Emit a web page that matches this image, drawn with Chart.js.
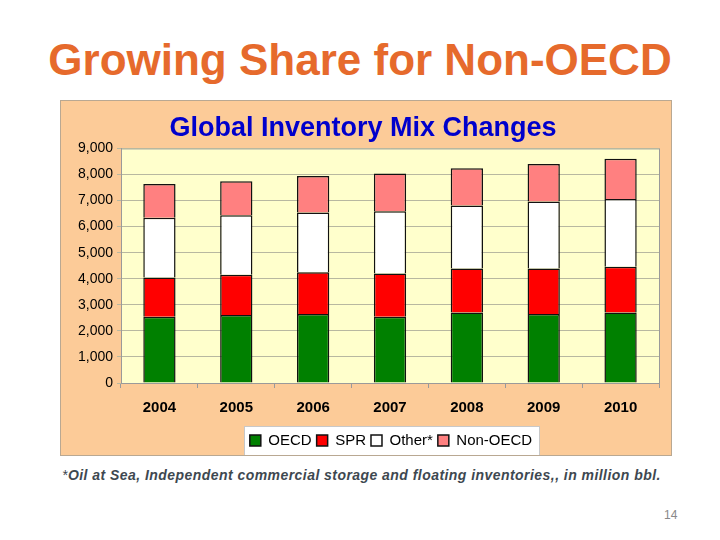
<!DOCTYPE html>
<html>
<head>
<meta charset="utf-8">
<script src="https://cdn.jsdelivr.net/npm/chart.js@4/dist/chart.umd.min.js"></script>
<style>
  body { margin: 0; width: 720px; height: 540px; background: #fff; position: relative; font-family: Arial, "Liberation Sans", sans-serif; overflow: hidden; }
  #title { position: absolute; left: 0; top: 35px; width: 720px; text-align: center; font-size: 44px; font-weight: bold; color: #E66A2C; }
  #box { position: absolute; left: 60px; top: 100px; width: 610px; height: 354px; background: #FCCB98; border: 1px solid #B9A892; }
  #note { position: absolute; left: 62px; top: 467px; font-size: 14px; font-style: italic; font-weight: bold; color: #3E4850; letter-spacing: 0.45px; }
  #page { position: absolute; left: 664px; top: 508px; font-size: 12px; color: #888; }
</style>
</head>
<body>
<div id="title">Growing Share for Non-OECD</div>
<div id="box"><canvas id="mixChart" width="610" height="354"></canvas></div>
<div id="note"><span style="font-weight:normal">*</span>Oil at Sea, Independent commercial storage and floating inventories,, in million bbl.</div>
<div id="page">14</div>
<script>
// values, million bbl
const years = ['2004','2005','2006','2007','2008','2009','2010'];
const oecd = [2545, 2610, 2650, 2545, 2700, 2650, 2700];
const spr = [1500, 1540, 1600, 1655, 1690, 1740, 1755];
const other = [2290, 2290, 2290, 2390, 2420, 2570, 2605];
const nonOecd = [1300, 1295, 1400, 1450, 1425, 1440, 1540];
const yTicks = [0, 1000, 2000, 3000, 4000, 5000, 6000, 7000, 8000, 9000];

// plot background + white legend panel
const backdrop = {
    id: 'backdrop',
    afterLayout(chart) {
        // legend sits a bit right of centre and lower in the original
        const lg = chart.legend;
        lg.left += 28; lg.right += 28;
        lg.top += 3; lg.bottom += 3;
    },
    beforeDraw(chart) {
        const c = chart.ctx, a = chart.chartArea;
        c.save();
        c.fillStyle = '#FFFFCC';
        c.fillRect(a.left, a.top, a.right - a.left, a.bottom - a.top);
        c.strokeStyle = '#9A9A9A';
        c.lineWidth = 1;
        c.strokeRect(a.left + 0.5, a.top + 0.5, a.right - a.left, a.bottom - a.top);
        c.fillStyle = '#FFFFFF';
        c.fillRect(183, 325, 296, 30);
        c.strokeStyle = '#C8C8C8';
        c.strokeRect(183.5, 325.5, 295, 30);
        c.restore();
    }
};

function bar(label, data, color) {
    return { label: label, data: data, backgroundColor: color, borderColor: '#111', borderWidth: 1.5,
             barPercentage: 0.42, categoryPercentage: 1 };
}

new Chart(document.getElementById('mixChart'), {
    type: 'bar',
    data: {
        labels: years,
        datasets: [
            bar('OECD', oecd, '#008000'),
            bar('SPR', spr, '#FF0000'),
            bar('Other*', other, '#FFFFFF'),
            bar('Non-OECD', nonOecd, '#FF8080')
        ]
    },
    options: {
        responsive: false,
        animation: false,
        layout: { padding: { left: 6, right: 12, top: 0, bottom: 0 } },
        plugins: {
            title: { display: true, text: 'Global Inventory Mix Changes', color: '#0000CC',
                     font: { family: 'Arial', size: 27, weight: 'bold' }, padding: { top: 11, bottom: 4 } },
            legend: { position: 'bottom',
                      labels: { color: '#000', boxWidth: 11, boxHeight: 11, padding: 5,
                                font: { family: 'Arial', size: 15 } } },
            tooltip: { enabled: false }
        },
        scales: {
            x: {
                stacked: true,
                afterFit: s => { s.height -= 3; },
                grid: { display: true, drawOnChartArea: false, drawTicks: true, tickLength: 5, color: '#9A9A9A', offset: true },
                border: { color: '#9A9A9A' },
                ticks: { color: '#000', padding: 11, font: { family: 'Arial', size: 15, weight: 'bold' } }
            },
            y: {
                stacked: true,
                min: 0, max: 9000,
                afterBuildTicks: s => { s.ticks = yTicks.map(v => ({ value: v })); },
                afterFit: s => { s.width = 54; },
                grid: { color: '#B8B8A0', tickLength: 4 },
                border: { color: '#9A9A9A' },
                ticks: { color: '#000', padding: 4, font: { family: 'Arial', size: 14 },
                         callback: v => v.toLocaleString('en-US') }
            }
        }
    },
    plugins: [backdrop]
});
</script>
</body>
</html>
